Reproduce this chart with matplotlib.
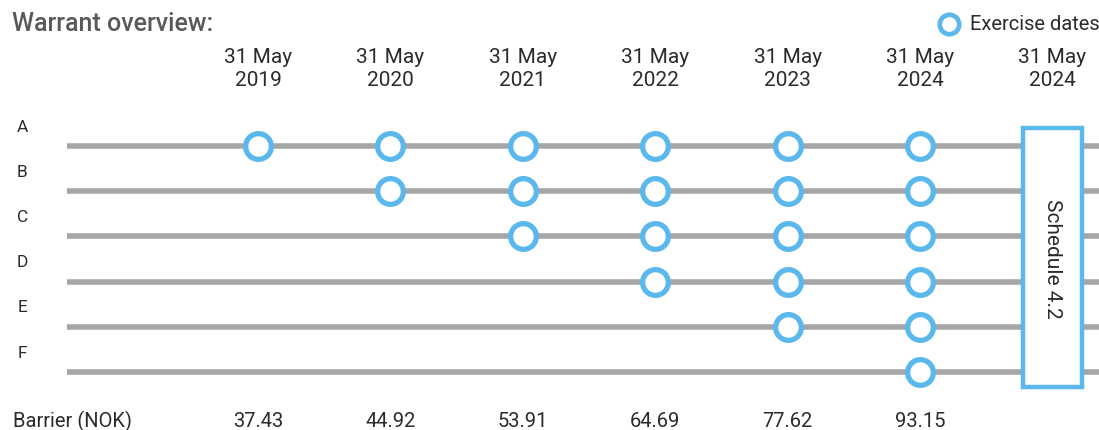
import matplotlib.pyplot as plt

plt.rcParams['font.family'] = ['Roboto', 'DejaVu Sans']

date_labels = ['31 May\n2019', '31 May\n2020', '31 May\n2021', '31 May\n2022',
               '31 May\n2023', '31 May\n2024', '31 May\n2024']
barriers = ['37.43', '44.92', '53.91', '64.69', '77.62', '93.15']
rows = ['A', 'B', 'C', 'D', 'E', 'F']
# first exercise date (column index) for each warrant row, all run to 2024
first_exercise = [0, 1, 2, 3, 4, 5]
last_exercise = 5
schedule_text = 'Schedule 4.2'

blue = '#5bb8ec'
grey = '#a6a6a6'
text_col = '#2b2b2b'

fig = plt.figure(figsize=(10.99, 4.31), dpi=100)
ax = fig.add_axes([0, 0, 1, 1])
ax.set_xlim(-1.949, 6.352)
ax.set_ylim(6.283, -3.252)
ax.axis('off')

for r, name in enumerate(rows):
    ax.plot([-1.443, 6.352], [r, r], color=grey, lw=4.0, solid_capstyle='butt', zorder=1)
    ax.text(-1.78, r - 0.44, name, ha='center', va='center', fontsize=12.5, color=text_col)
    xs = list(range(first_exercise[r], last_exercise + 1))
    ax.plot(xs, [r] * len(xs), 'o', ms=18.5, mew=3.8, mfc='white', mec=blue, ls='none', zorder=3)

for i, lab in enumerate(date_labels):
    ax.text(i, -1.72, lab, ha='center', va='center', fontsize=15, color=text_col,
            linespacing=1.25)

ax.text(-1.85, 6.07, 'Barrier (NOK)', ha='left', va='center', fontsize=14.5, color=text_col)
for i, b in enumerate(barriers):
    ax.text(i, 6.07, b, ha='center', va='center', fontsize=14.5, color=text_col)

# schedule box on the last column
box = plt.Rectangle((6 - 0.223, -0.398), 0.446, 5.73, facecolor='white', edgecolor=blue,
                    lw=3.2, zorder=4)
ax.add_patch(box)
ax.text(6, 2.47, schedule_text, rotation=-90, ha='center', va='center', fontsize=15,
        color=text_col, zorder=5)

# title and legend
ax.text(-1.86, -2.73, 'Warrant overview:', ha='left', va='center', fontsize=18,
        color='#595959', fontweight='medium')
ax.plot([5.22], [-2.7], 'o', ms=14, mew=3.4, mfc='white', mec=blue, zorder=3)
ax.text(5.38, -2.7, 'Exercise dates', ha='left', va='center', fontsize=14.5, color=text_col)

fig.savefig('out.png', dpi=100)
